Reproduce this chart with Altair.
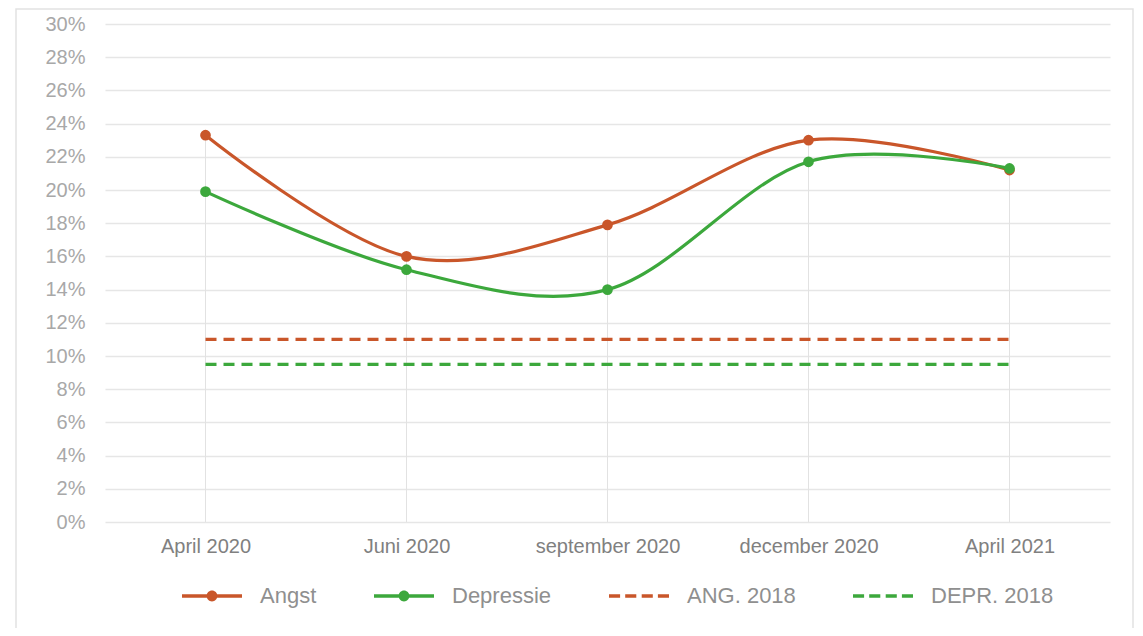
import altair as alt
import pandas as pd

categories = ["April 2020", "Juni 2020", "september 2020", "december 2020", "April 2021"]
angst = [23.3, 16.0, 17.9, 23.0, 21.2]
depressie = [19.9, 15.2, 14.0, 21.7, 21.3]
angst_2018 = [11.0, 11.0, 11.0, 11.0, 11.0]
depr_2018 = [9.5, 9.5, 9.5, 9.5, 9.5]

series_names = ["Angst", "Depressie", "ANG. 2018", "DEPR. 2018"]
series_colors = ["#c9562a", "#3ca83c", "#c9562a", "#3ca83c"]
y_ticks = list(range(0, 31, 2))

rows = []
for name, vals in zip(series_names, [angst, depressie, angst_2018, depr_2018]):
    for c, v in zip(categories, vals):
        rows.append({"categorie": c, "reeks": name, "waarde": v})
df = pd.DataFrame(rows)

drop = pd.DataFrame({"categorie": categories,
                     "waarde": [max(a, d) for a, d in zip(angst, depressie)]})

FONT = "Liberation Sans"

# legend symbols: line with dot, and dashed line
line_dot = ("M-1,-0.055 H1 V0.055 H-1 Z "
            "M0.18,0 A0.18,0.18 0 1,1 -0.18,0 A0.18,0.18 0 1,1 0.18,0 Z")
dashed = ("M-1,-0.055 H-0.63 V0.055 H-1 Z "
          "M-0.46,-0.055 H-0.09 V0.055 H-0.46 Z "
          "M0.09,-0.055 H0.46 V0.055 H0.09 Z "
          "M0.63,-0.055 H1 V0.055 H0.63 Z")
shapes = [line_dot, line_dot, dashed, dashed]

color_scale = alt.Scale(domain=series_names, range=series_colors)
x_scale = alt.Scale(type="point", padding=0.5)
x_axis = alt.Axis(labelAngle=0, labelAlign="center", labelBaseline="top",
                  labelFontSize=20, labelColor="#808080",
                  labelFont=FONT, ticks=False, domain=False,
                  labelPadding=14, grid=False, labelOverlap=False)
x_enc = alt.X("categorie:N", sort=categories, title=None, scale=x_scale, axis=x_axis)
y_scale = alt.Scale(domain=[0, 30], nice=False)
y_axis = alt.Axis(values=y_ticks, labelExpr="datum.value + '%'",
                  labelFontSize=20, labelColor="#a8a8a8", labelFont=FONT,
                  ticks=False, domain=False, labelPadding=20, labelOverlap=False,
                  grid=True, gridColor="#e6e6e6", gridWidth=1.5)
y_enc = alt.Y("waarde:Q", scale=y_scale, title=None, axis=y_axis)

base = alt.Chart(df)

rules = alt.Chart(drop).mark_rule(color="#e2e2e2", strokeWidth=1).encode(
    x=x_enc,
    y=y_enc,
    y2=alt.datum(0),
)

main_lines = base.transform_filter(
    alt.FieldOneOfPredicate(field="reeks", oneOf=["Angst", "Depressie"])
).mark_line(interpolate="cardinal", strokeWidth=3.2).encode(
    x=x_enc, y=y_enc,
    color=alt.Color("reeks:N", scale=color_scale, legend=None),
)

dash_lines = base.transform_filter(
    alt.FieldOneOfPredicate(field="reeks", oneOf=["ANG. 2018", "DEPR. 2018"])
).mark_line(strokeWidth=3.2, strokeDash=[11, 7]).encode(
    x=x_enc, y=y_enc,
    color=alt.Color("reeks:N", scale=color_scale, legend=None),
)

points = base.transform_filter(
    alt.FieldOneOfPredicate(field="reeks", oneOf=["Angst", "Depressie"])
).mark_circle(size=115, opacity=1).encode(
    x=x_enc, y=y_enc,
    color=alt.Color("reeks:N", scale=color_scale, legend=None),
)

legend_spec = dict(orient="none", legendX=77, legendY=542,
                   direction="horizontal", columns=4,
                   symbolSize=3600, symbolStrokeWidth=0,
                   labelFontSize=22, labelColor="#8f8f8f",
                   labelFont=FONT, labelOffset=18,
                   columnPadding=57, title=None, symbolOpacity=1)

legend_layer = base.transform_filter("false").mark_point(
    filled=True, opacity=1, size=3600
).encode(
    x=x_enc, y=y_enc,
    color=alt.Color("reeks:N", scale=color_scale, legend=alt.Legend(**legend_spec)),
    shape=alt.Shape("reeks:N", scale=alt.Scale(domain=series_names, range=shapes),
                    legend=alt.Legend(**legend_spec)),
)

border = alt.Chart(alt.Data(values=[{"a": 1}])).mark_rect(
    fill=None, stroke="#e2e2e2", strokeWidth=1.5
).encode(
    x=alt.value(-89), x2=alt.value(1028), y=alt.value(-15), y2=alt.value(640)
)

chart = alt.layer(border, rules, dash_lines, main_lines, points, legend_layer).resolve_legend(
    color="independent", shape="independent"
).properties(
    width=1005, height=498,
    padding={"left": 97, "top": 16, "right": 25, "bottom": 106},
    autosize=alt.AutoSizeParams(type="none"),
    background="white",
    view=alt.ViewBackground(strokeWidth=0, stroke="transparent"),
).configure_view(strokeWidth=0, stroke="transparent").configure(font=FONT)

chart.save("out.html", embed_options={"renderer": "svg", "actions": False})
